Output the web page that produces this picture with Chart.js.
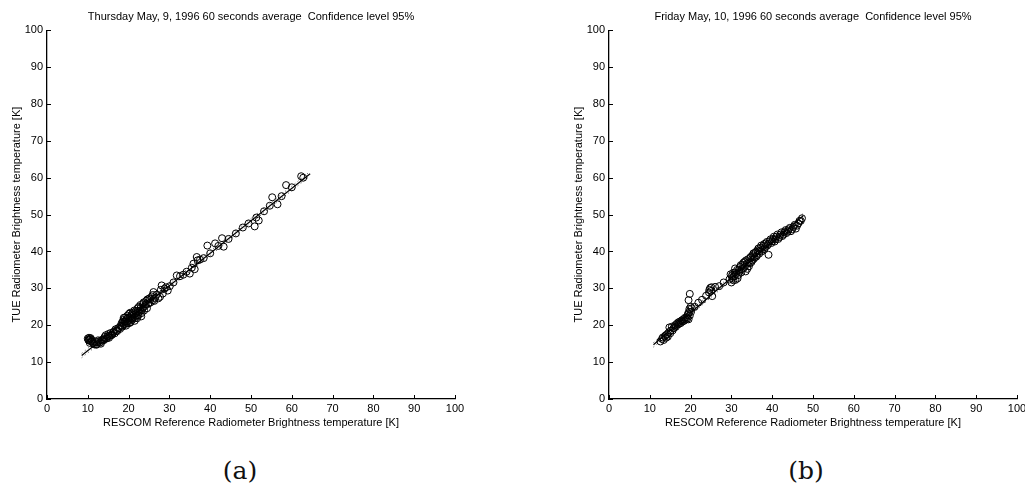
<!DOCTYPE html>
<html>
<head>
<meta charset="utf-8">
<script src="https://cdn.jsdelivr.net/npm/chart.js@4.4.0/dist/chart.umd.min.js"></script>
<style>
  html, body { margin: 0; padding: 0; background: #fff; overflow: hidden; }
  body { width: 1025px; height: 495px; position: relative; }
  canvas { position: absolute; top: 0; }
  #cvs_a { left: 0; }
  #cvs_b { left: 512px; }
  .sub { position: absolute; top: 456px; font-family: "DejaVu Serif", "Liberation Serif", serif; font-size: 25px; color: #111; transform: translateX(-50%); }
</style>
</head>
<body>
<canvas id="cvs_a" width="512" height="440"></canvas>
<canvas id="cvs_b" width="520" height="440"></canvas>
<div class="sub" style="left:240px">(a)</div>
<div class="sub" style="left:806px">(b)</div>
<script>
// Thursday (a)
const xA = [10.0, 10.3, 10.6, 10.2, 10.8, 11.0, 10.5, 11.3, 11.6, 12.0, 12.3, 12.7, 13.0, 13.4, 13.8, 14.1, 14.4, 14.7, 15.0, 15.3,
  15.6, 16.0, 16.4, 16.8, 17.2, 17.6, 18.0, 18.3, 18.5, 18.7, 18.9, 19.1, 19.2, 19.4, 19.5, 19.7, 19.8, 20.0, 20.1, 20.3,
  20.5, 20.7, 20.9, 21.1, 21.3, 21.5, 21.7, 22.0, 22.2, 22.4, 22.6, 22.9, 23.1, 23.3, 23.6, 23.8, 24.0, 24.3, 24.5, 24.8,
  25.1, 25.4, 25.7, 26.0, 26.1, 26.5, 26.9, 27.3, 27.7, 27.9, 28.1, 28.4, 28.8, 29.2, 29.6, 30.1, 31.0, 31.8, 32.6, 33.4,
  34.2, 35.0, 35.5, 35.9, 36.2, 36.7, 36.9, 37.5, 38.4, 39.3, 40.0, 41.2, 42.0, 42.9, 43.3, 44.5, 46.3, 48.0, 49.4, 50.9,
  51.3, 51.9, 53.2, 54.6, 55.2, 56.5, 57.5, 58.6, 60.0, 62.3, 62.8,
  18.4, 18.6, 18.8, 19.0, 19.3, 19.6, 19.9, 20.2, 20.4, 20.6, 20.8, 21.0, 21.2, 21.4, 21.6, 21.9, 22.1, 22.3, 22.5, 22.8,
  23.0, 23.2, 23.5, 23.7, 24.2, 24.6, 25.0, 25.3, 25.9, 26.3, 12.1, 12.5, 13.2, 13.6, 14.0, 14.5, 14.9, 15.2, 15.7, 16.2,
  16.6, 17.0, 17.4, 17.9, 10.4, 10.7, 10.1, 11.1];
const yA = [16.4, 16.6, 16.3, 15.9, 15.6, 16.0, 15.2, 15.1, 14.8, 15.4, 14.9, 15.6, 15.3, 16.0, 16.2, 16.8, 17.3, 16.5, 17.6, 17.2,
  17.9, 17.5, 18.3, 18.9, 18.4, 19.2, 19.8, 20.6, 19.6, 21.4, 20.3, 22.1, 20.9, 19.9, 21.7, 22.6, 20.5, 21.2, 23.1, 22.0,
  20.8, 22.5, 21.5, 23.4, 22.3, 21.2, 23.8, 22.6, 24.6, 22.7, 23.5, 25.5, 22.4, 24.2, 25.9, 24.0, 25.2, 26.6, 24.6, 25.8,
  27.3, 26.2, 27.8, 26.8, 29.0, 27.4, 28.3, 27.3, 27.7, 29.6, 30.8, 28.6, 29.9, 30.3, 29.4, 30.6, 31.6, 33.5, 33.3, 33.7,
  34.5, 34.0, 35.6, 36.7, 35.2, 38.5, 37.6, 37.8, 38.2, 41.6, 39.5, 42.2, 41.5, 43.6, 41.3, 43.4, 44.9, 46.5, 47.6, 46.8,
  49.2, 48.4, 50.9, 52.4, 54.7, 52.8, 55.0, 58.0, 57.4, 60.4, 60.0,
  19.9, 20.9, 22.0, 21.0, 20.4, 21.0, 22.0, 20.6, 23.4, 21.7, 23.0, 21.9, 22.8, 24.0, 22.0, 23.3, 21.9, 23.9, 25.0, 23.9,
  24.8, 23.3, 24.7, 26.2, 25.7, 27.0, 26.0, 27.0, 28.2, 26.6, 14.7, 15.9, 15.0, 15.8, 16.0, 16.4, 17.0, 16.6, 17.2, 18.0,
  17.8, 18.5, 19.2, 19.0, 16.0, 16.5, 16.1, 15.6];
const fitXA = [8.5, 64.5];
const fitYA = [11.8, 61.1];
const confHiA = [12.4, 61.7];
const confLoA = [11.2, 60.5];

// Friday (b)
const xB = [12.6, 13.0, 13.4, 13.7, 14.0, 14.3, 14.6, 14.8, 15.1, 15.4, 15.8, 16.2, 16.6, 17.0, 17.4, 17.8, 18.2, 18.6, 19.0, 19.3,
  19.5, 19.6, 19.7, 19.5, 19.8, 20.0, 20.3, 21.0, 21.9, 22.8, 23.8, 24.5, 24.8, 25.0, 25.3, 26.0, 27.0, 28.1, 29.5, 29.8,
  30.0, 30.2, 30.4, 30.6, 30.9, 31.2, 31.5, 31.8, 32.1, 32.4, 32.7, 33.0, 33.2, 33.5, 33.8, 34.1, 34.3, 34.6, 34.9, 35.2,
  35.5, 35.8, 36.1, 36.4, 36.8, 37.1, 37.4, 37.8, 38.1, 38.4, 38.8, 39.1, 39.4, 39.8, 40.2, 40.6, 41.0, 41.5, 42.0, 42.5,
  43.0, 43.5, 44.0, 44.6, 45.2, 45.8, 46.4, 47.0,
  13.2, 13.9, 14.4, 15.0, 15.6, 16.0, 16.4, 16.9, 17.2, 17.6, 18.0, 18.4, 18.8, 19.2, 19.4, 19.8, 20.1, 24.6, 25.1, 30.1,
  30.5, 30.8, 31.0, 31.4, 31.7, 32.0, 32.3, 32.6, 32.9, 33.3, 33.6, 33.9, 34.2, 34.5, 34.8, 35.1, 35.4, 35.7, 36.0, 36.3,
  36.6, 36.9, 37.3, 37.6, 38.0, 38.3, 38.7, 39.0, 39.6, 40.0, 40.4, 40.8, 41.3, 41.8, 42.3, 42.8, 43.3, 43.8, 44.3, 44.9,
  45.5, 46.1, 46.7, 47.3];
const yB = [15.6, 16.3, 16.0, 17.0, 16.6, 17.6, 18.0, 19.4, 18.5, 19.6, 19.2, 20.0, 20.4, 20.8, 21.0, 21.3, 21.6, 22.0, 22.2, 22.8,
  21.6, 23.6, 24.4, 26.8, 28.5, 25.0, 24.6, 25.0, 26.1, 26.9, 28.0, 28.9, 30.1, 29.3, 27.9, 30.4, 30.6, 31.6, 32.4, 33.8,
  31.6, 32.8, 34.2, 33.2, 35.4, 33.9, 32.7, 34.9, 35.8, 34.3, 36.4, 35.5, 37.2, 34.6, 36.7, 37.9, 36.0, 38.3, 37.1, 39.0,
  38.0, 39.6, 38.6, 40.3, 39.4, 41.0, 40.0, 41.5, 40.7, 42.2, 41.6, 39.1, 42.8, 42.3, 43.4, 42.7, 44.0, 43.4, 44.6, 44.2,
  45.3, 45.0, 46.0, 45.5, 46.7, 46.2, 47.6, 48.3,
  16.7, 17.3, 16.9, 17.8, 18.6, 19.3, 19.6, 20.2, 20.4, 20.6, 21.0, 21.2, 21.5, 21.8, 23.2, 22.6, 23.6, 29.6, 30.3, 33.4,
  32.2, 34.3, 32.3, 35.0, 33.6, 34.5, 36.3, 35.2, 36.9, 35.9, 37.6, 35.3, 37.1, 36.8, 38.6, 37.6, 39.5, 38.4, 39.9, 39.0,
  40.8, 40.1, 41.6, 40.5, 42.0, 41.2, 42.6, 42.0, 43.3, 42.8, 44.0, 43.3, 44.6, 43.9, 45.2, 44.6, 45.8, 45.4, 46.4, 46.0,
  47.2, 47.0, 48.3, 49.0];
const fitXB = [10.9, 47.6];
const fitYB = [14.7, 49.7];
const confHiB = [15.3, 50.3];
const confLoB = [14.1, 49.1];

const axisTicks = [0, 10, 20, 30, 40, 50, 60, 70, 80, 90, 100];
const xTitle = "RESCOM Reference Radiometer Brightness temperature [K]";
const yTitle = "TUE Radiometer Brightness temperature [K]";

const fonte = "'Liberation Sans', Arial, sans-serif";

function pontos(xs, ys) {
  return xs.map(function (x, i) { return { x: x, y: ys[i] }; });
}

// ticks desenhados para dentro (estilo matlab)
const ticksParaDentro = {
  id: "ticksParaDentro",
  afterDraw(chart) {
    const ctx = chart.ctx;
    const sx = chart.scales.x, sy = chart.scales.y;
    ctx.save();
    ctx.strokeStyle = "#000";
    ctx.lineWidth = 1;
    ctx.beginPath();
    axisTicks.forEach(function (v) {
      const px = Math.round(sx.getPixelForValue(v)) + 0.5;
      ctx.moveTo(px, sy.bottom);
      ctx.lineTo(px, sy.bottom - 4);
      const py = Math.round(sy.getPixelForValue(v)) + 0.5;
      ctx.moveTo(sx.left, py);
      ctx.lineTo(sx.left + 4, py);
    });
    ctx.stroke();
    ctx.restore();
  },
};

function criarGrafico(canvas, titulo, xs, ys, fitX, fitY, hi, lo, padEsq, padDir) {
  return new Chart(canvas, {
    type: "scatter",
    data: {
      datasets: [
        {
          label: "dados",
          data: pontos(xs, ys),
          pointStyle: "circle",
          pointRadius: 3.5,
          borderColor: "#000",
          borderWidth: 1,
          backgroundColor: "rgba(0,0,0,0)",
        },
        {
          type: "line",
          label: "ajuste",
          data: pontos(fitX, fitY),
          borderColor: "#000",
          borderWidth: 1.2,
          pointRadius: 0,
        },
        {
          type: "line",
          label: "conf+",
          data: pontos(fitX, hi),
          borderColor: "#222",
          borderWidth: 0.8,
          borderDash: [1, 3],
          pointRadius: 0,
        },
        {
          type: "line",
          label: "conf-",
          data: pontos(fitX, lo),
          borderColor: "#222",
          borderWidth: 0.8,
          borderDash: [1, 3],
          pointRadius: 0,
        },
      ],
    },
    options: {
      responsive: false,
      animation: false,
      layout: { padding: { left: padEsq, right: padDir, top: 0, bottom: 0 } },
      plugins: {
        legend: { display: false },
        tooltip: { enabled: false },
        title: {
          display: true,
          text: titulo,
          color: "#000",
          fullSize: false,
          font: { size: 11, weight: "normal", family: fonte },
          padding: { top: 10, bottom: 7 },
        },
      },
      scales: {
        x: {
          type: "linear",
          min: 0,
          max: 100,
          afterBuildTicks: function (s) { s.ticks = axisTicks.map(function (v) { return { value: v }; }); },
          afterFit: function (s) { s.height = 41; },
          grid: { display: false, drawTicks: false },
          border: { display: true, color: "#000", width: 1.3 },
          ticks: { color: "#000", padding: 3, maxRotation: 0, font: { size: 11, family: fonte } },
          title: {
            display: true,
            text: xTitle,
            color: "#000",
            font: { size: 11, family: fonte },
            padding: { top: 0, bottom: 10 },
          },
        },
        y: {
          type: "linear",
          min: 0,
          max: 100,
          afterBuildTicks: function (s) { s.ticks = axisTicks.map(function (v) { return { value: v }; }); },
          afterFit: function (s) { s.width = 47; },
          grid: { display: false, drawTicks: false },
          border: { display: true, color: "#000", width: 1.3 },
          ticks: { color: "#000", padding: 4, font: { size: 11, family: fonte } },
          title: {
            display: true,
            text: yTitle,
            color: "#000",
            font: { size: 11, family: fonte },
            padding: { top: 10, bottom: 0 },
          },
        },
      },
    },
    plugins: [ticksParaDentro],
  });
}

criarGrafico(document.getElementById("cvs_a"),
  "Thursday May, 9, 1996 60 seconds average  Confidence level 95%",
  xA, yA, fitXA, fitYA, confHiA, confLoA, 0, 57);

criarGrafico(document.getElementById("cvs_b"),
  "Friday May, 10, 1996 60 seconds average  Confidence level 95%",
  xB, yB, fitXB, fitYB, confHiB, confLoB, 50, 15);
</script>
</body>
</html>
